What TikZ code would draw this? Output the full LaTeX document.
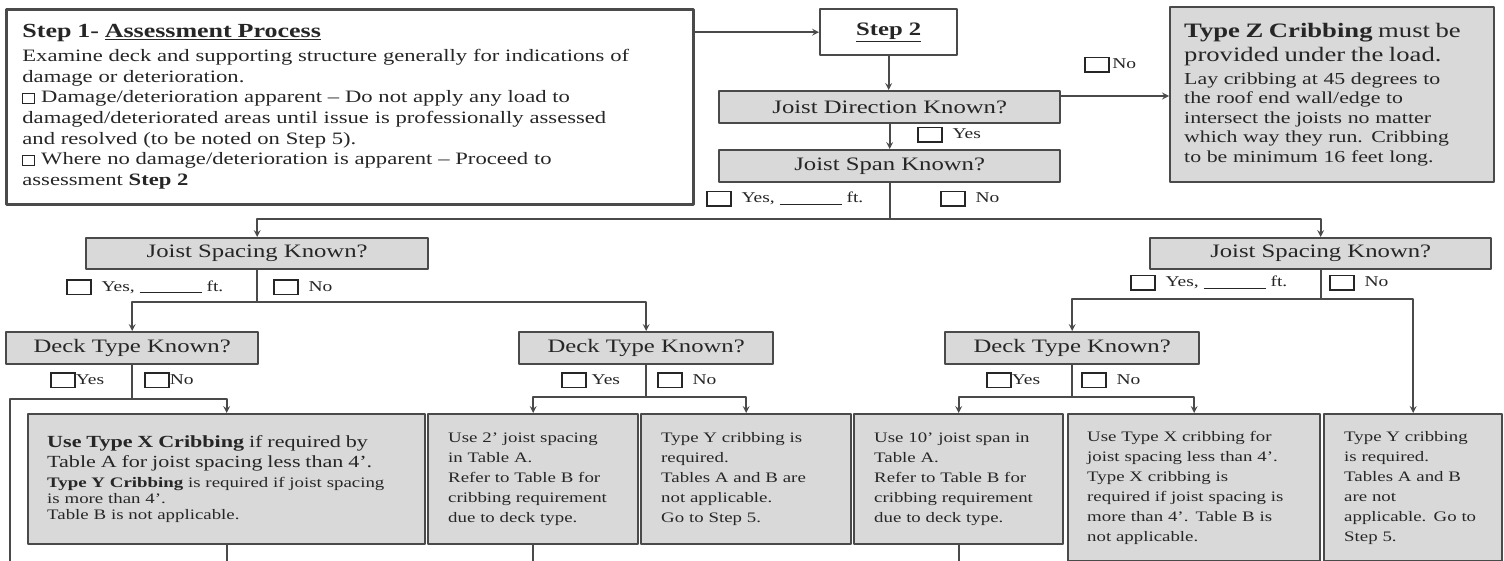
\documentclass[tikz,border=0pt]{standalone}
\usepackage{fontspec}
\setmainfont{Liberation Serif}[FakeStretch=1.3]
\definecolor{linecol}{HTML}{4A4A4A}
\definecolor{boxgray}{HTML}{D9D9D9}
\definecolor{txtcol}{HTML}{262626}
\newcommand{\fsq}{\fontsize{19pt}{23pt}\selectfont}
\newcommand{\fsbody}{\fontsize{17.4pt}{20.7pt}\selectfont}
\newcommand{\fsbig}{\fontsize{20.5pt}{24pt}\selectfont}
\newcommand{\fsmid}{\fontsize{16.8pt}{19.5pt}\selectfont}
\newcommand{\fssmall}{\fontsize{14.5pt}{20pt}\selectfont}
\newcommand{\fstight}{\fontsize{14.5pt}{16pt}\selectfont}
\newcommand{\fslbl}{\fontsize{15pt}{18pt}\selectfont}
\newcommand{\ckbox}{\raisebox{-2.5pt}{\setlength{\fboxsep}{0pt}\setlength{\fboxrule}{1.8pt}\fbox{\rule{0pt}{13pt}\hspace{22pt}}}}
\newcommand{\smbox}{\raisebox{-0.5pt}{\setlength{\fboxsep}{0pt}\setlength{\fboxrule}{1pt}\fbox{\rule{0pt}{9pt}\hspace{11pt}}}}
\newcommand{\blank}{\rule[-1.5pt]{62pt}{0.9pt}}
\tikzset{
  frame/.style={draw=linecol, line width=2.4pt, inner sep=0pt, anchor=north west, text=txtcol},
  quest/.style={frame, fill=boxgray, font=\fsq},
  panel/.style={frame, fill=boxgray, align=left},
  link/.style={draw=linecol, line width=2pt},
  tick/.style={inner sep=0pt, anchor=west, text=txtcol, font=\fslbl},
}
\begin{document}
\begin{tikzpicture}[x=1pt, y=1pt, >=stealth, line join=round]
\useasboundingbox[fill=white] (0,0) rectangle (1504,-561);
\coordinate (bot) at (0,-561);
\coordinate (yesL) at (10,-561);
% step 1 and step 2
\node[frame, fill=white, line width=2.8pt, minimum width=687pt, minimum height=195pt, text width=655pt, inner xsep=16pt, align=left, font=\fsbody] (step1) at (5,-8)
 {{\fontsize{20pt}{20.7pt}\selectfont\textbf{Step 1- \underline{Assessment Process}}}\\[3pt]
  Examine deck and supporting structure generally for indications of\\
  damage or deterioration.\\
  \smbox\ Damage/deterioration apparent -- Do not apply any load to\\
  damaged/deteriorated areas until issue is professionally assessed\\
  and resolved (to be noted on Step 5).\\
  \smbox\ Where no damage/deterioration is apparent -- Proceed to\\
  assessment \textbf{Step 2}};
\node[frame, fill=white, minimum width=137pt, minimum height=46pt, font=\fontsize{19pt}{22pt}\selectfont] (step2) at (819,-8) {\textbf{\underline{Step 2}}};
\node[quest, minimum width=341pt, minimum height=32pt] (dir) at (718,-90) {Joist Direction Known?};
\node[quest, minimum width=341pt, minimum height=32pt] (span) at (718,-149) {Joist Span Known?};
\node[panel, minimum width=324pt, minimum height=175pt, text width=296pt, inner xsep=14pt, font=\fsmid] (typeZ) at (1169,-6)
 {{\fsbig\textbf{Type Z Cribbing} must be}\\[5pt]
  {\fsbig provided under the load.}\\[3pt]
  Lay cribbing at 45 degrees to\\
  the roof end wall/edge to\\
  intersect the joists no matter\\
  which way they run. Cribbing\\
  to be minimum 16 feet long.};
% joist spacing
\node[quest, minimum width=342pt, minimum height=31pt] (spL) at (85,-237) {Joist Spacing Known?};
\node[quest, minimum width=341pt, minimum height=31pt] (spR) at (1149,-237) {Joist Spacing Known?};
% deck type
\node[quest, minimum width=252pt, minimum height=32pt] (dkL) at (5,-331) {Deck Type Known?};
\node[quest, minimum width=254pt, minimum height=32pt] (dkM) at (518,-331) {Deck Type Known?};
\node[quest, minimum width=254pt, minimum height=32pt] (dkR) at (944,-331) {Deck Type Known?};
% outcomes
\node[panel, minimum width=397pt, minimum height=130pt, text width=359pt, inner xsep=19pt, font=\fstight] (b1) at (27,-413)
 {{\fontsize{17pt}{20pt}\selectfont\textbf{Use Type X Cribbing} if required by}\\[4pt]
  {\fontsize{17pt}{20pt}\selectfont Table A for joist spacing less than 4'.}\\[4pt]
  \textbf{Type Y Cribbing} is required if joist spacing\\
  is more than 4'.\\
  Table B is not applicable.};
\node[panel, minimum width=210pt, minimum height=130pt, text width=170pt, inner xsep=20pt, font=\fssmall] (b2) at (427,-413)
 {Use 2' joist spacing\\ in Table A.\\ Refer to Table B for\\ cribbing requirement\\ due to deck type.};
\node[panel, minimum width=210pt, minimum height=130pt, text width=170pt, inner xsep=20pt, font=\fssmall] (b3) at (640,-413)
 {Type Y cribbing is\\ required.\\ Tables A and B are\\ not applicable.\\ Go to Step 5.};
\node[panel, minimum width=209pt, minimum height=130pt, text width=169pt, inner xsep=20pt, font=\fssmall] (b4) at (853,-413)
 {Use 10' joist span in\\ Table A.\\ Refer to Table B for\\ cribbing requirement\\ due to deck type.};
\node[panel, minimum width=252pt, minimum height=147pt, text width=214pt, inner xsep=19pt, font=\fssmall] (b5) at (1067,-413)
 {Use Type X cribbing for\\ joist spacing less than 4'.\\ Type X cribbing is\\ required if joist spacing is\\ more than 4'. Table B is\\ not applicable.};
\node[panel, minimum width=178pt, minimum height=147pt, text width=138pt, inner xsep=20pt, font=\fssmall] (b6) at (1323,-413)
 {Type Y cribbing\\ is required.\\ Tables A and B\\ are not\\ applicable. Go to\\ Step 5.};
% answers
\node[tick] (dirNo) at (1084,-65) {\ckbox\,No};
\node[tick] (dirYes) at (917,-135) {\ckbox\ \ Yes};
\node[tick] (spanYes) at (706,-199) {\ckbox\ \ Yes, \blank\ ft.};
\node[tick] (spanNo) at (940,-199) {\ckbox\ \ No};
\node[tick] (spLYes) at (66,-287) {\ckbox\ \ Yes, \blank\ ft.};
\node[tick] (spLNo) at (273,-287) {\ckbox\ \ No};
\node[tick] (spRYes) at (1130,-283) {\ckbox\ \ Yes, \blank\ ft.};
\node[tick] (spRNo) at (1329,-283) {\ckbox\ \ No};
\node[tick] (dkLYes) at (50,-380) {\ckbox Yes};
\node[tick] (dkLNo) at (144,-380) {\ckbox No};
\node[tick] (dkMYes) at (561,-380) {\ckbox\ Yes};
\node[tick] (dkMNo) at (657,-380) {\ckbox\ \ No};
\node[tick] (dkRYes) at (986,-380) {\ckbox Yes};
\node[tick] (dkRNo) at (1081,-380) {\ckbox\ \ No};
% connectors
\draw[link,->] (step1.east |- step2.west) -- (step2.west);
\draw[link,->] (step2.south) -- (step2.south |- dir.north);
\coordinate (dz) at ([yshift=-6pt]dir.north east);
\draw[link,->] (dz) -- (dz -| typeZ.west);
\draw[link,->] (dir.south) -- (span.north);
\draw[link,->] (span.south) -- ++(0,-36) -| (spL.north);
\draw[link,->] (span.south) ++(0,-36) -| (spR.north);
\draw[link,->] (spL.south) -- ++(0,-32) -| (dkL.north);
\draw[link,->] (spL.south) ++(0,-32) -| (dkM.north);
\draw[link,->] (spR.south) -- ++(0,-29) -| (dkR.north);
\draw[link,->] (spR.south) ++(0,-29) -| (b6.north);
\draw[link,->] (dkL.south) -- ++(0,-34) -| (b1.north);
\draw[link] (dkL.south) ++(0,-34) -| (yesL);
\draw[link,->] (dkM.south) -- ++(0,-32) -| (b2.north);
\draw[link,->] (dkM.south) ++(0,-32) -| (b3.north);
\draw[link,->] (dkR.south) -- ++(0,-32) -| (b4.north);
\draw[link,->] (dkR.south) ++(0,-32) -| (b5.north);
\foreach \n in {b1,b2,b4}{\draw[link] (\n.south) -- (\n.south |- bot);}
\end{tikzpicture}
\end{document}
